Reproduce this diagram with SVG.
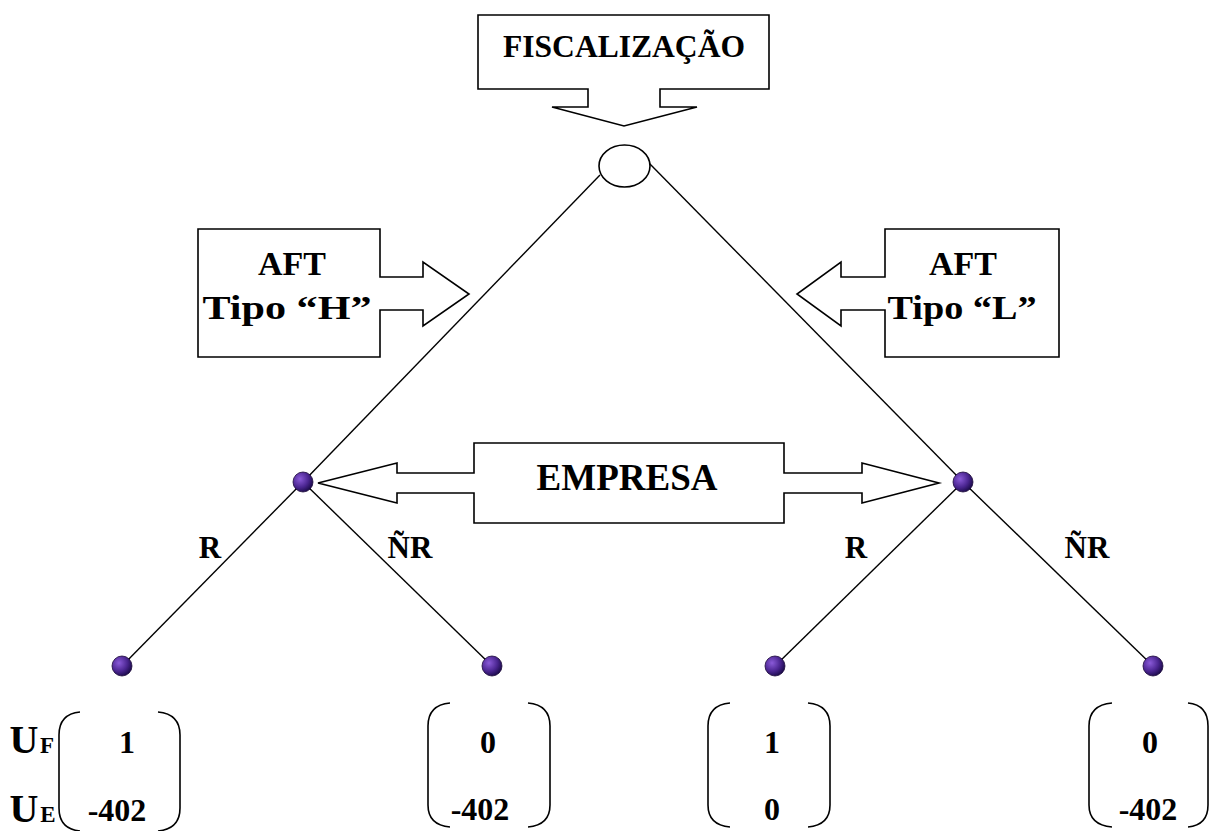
<svg xmlns="http://www.w3.org/2000/svg" width="1210" height="831" viewBox="0 0 1210 831">
<style>
.shape{fill:#fff;stroke:#000;stroke-width:1.6;stroke-linejoin:miter}
.edge{fill:none;stroke:#000;stroke-width:1.4}
.par{fill:none;stroke:#000;stroke-width:1.6}
.t{font-family:"Liberation Serif","Times New Roman",serif;font-weight:bold;fill:#000;text-anchor:middle}
.dot{fill:url(#dotg);stroke:#1a0838;stroke-width:0.8}
</style>
<defs>
<radialGradient id="dotg" cx="0.35" cy="0.35" r="0.7">
<stop offset="0" stop-color="#8a5ad8"/>
<stop offset="0.6" stop-color="#4a2590"/>
<stop offset="1" stop-color="#1a0a48"/>
</radialGradient>
</defs>
<rect width="1210" height="831" fill="#fff"/>
<g id="connectors">
<line class="edge" x1="600" y1="175" x2="303" y2="482"/>
<line class="edge" x1="648" y1="162" x2="963" y2="482"/>
<line class="edge" x1="303" y1="482" x2="122" y2="666"/>
<line class="edge" x1="303" y1="482" x2="492" y2="666"/>
<line class="edge" x1="963" y1="482" x2="775" y2="666"/>
<line class="edge" x1="963" y1="482" x2="1153" y2="666"/>
</g>
<g id="fiscalizacao">
<path class="shape" d="M478,15 H769 V89 H660 V107 H697 L624,126 L552,107 H588 V89 H478 Z"/>
<text class="t" x="624" y="57" font-size="32" textLength="242" lengthAdjust="spacingAndGlyphs">FISCALIZAÇÃO</text>
</g>
<g id="root">
<ellipse class="shape" cx="624.5" cy="166" rx="25.5" ry="21"/>
</g>
<g id="aft-h">
<path class="shape" d="M198,229 H380 V277 H423 V262 L469,294 L423,326 V310 H380 V357 H198 Z"/>
<text class="t" x="292" y="275" font-size="34">AFT</text>
<text class="t" x="287" y="319" font-size="34" textLength="169" lengthAdjust="spacingAndGlyphs">Tipo “H”</text>
</g>
<g id="aft-l">
<path class="shape" d="M1059,229 H885 V277 H841 V262 L797,294 L841,326 V310 H885 V357 H1059 Z"/>
<text class="t" x="963" y="275" font-size="34">AFT</text>
<text class="t" x="962" y="319" font-size="34" textLength="149" lengthAdjust="spacingAndGlyphs">Tipo “L”</text>
</g>
<g id="empresa">
<path class="shape" d="M474,443 H784 V473 H862 V463 L939,483 L862,503 V493 H784 V523 H474 V493 H397 V503 L318,483 L397,463 V473 H474 Z"/>
<text class="t" x="627" y="490" font-size="37">EMPRESA</text>
</g>
<g id="node-left">
<circle class="dot" cx="303" cy="482" r="10"/>
</g>
<g id="node-right">
<circle class="dot" cx="963" cy="482" r="10"/>
</g>
<g id="labels">
<text class="t" x="210" y="558" font-size="31">R</text>
<text class="t" x="410" y="558" font-size="31">ÑR</text>
<text class="t" x="856" y="558" font-size="31">R</text>
<text class="t" x="1087" y="558" font-size="31">ÑR</text>
</g>
<g id="leaf1">
<circle class="dot" cx="122" cy="666" r="10"/>
<path class="par" d="M80,712 Q59,714 59,735 V808 Q59,829 80,831"/>
<path class="par" d="M158,712 Q180,714 180,735 V808 Q180,829 158,831"/>
<text class="t" x="127" y="753" font-size="32">1</text>
<text class="t" x="117" y="821" font-size="32">-402</text>
</g>
<g id="leaf2">
<circle class="dot" cx="492" cy="666" r="10"/>
<path class="par" d="M450,703 Q428,705 428,726 V805 Q428,825 450,827"/>
<path class="par" d="M528,703 Q550,705 550,726 V805 Q550,825 528,827"/>
<text class="t" x="488" y="753" font-size="32">0</text>
<text class="t" x="480" y="820" font-size="32">-402</text>
</g>
<g id="leaf3">
<circle class="dot" cx="775" cy="666" r="10"/>
<path class="par" d="M730,703 Q708,705 708,726 V805 Q708,825 730,827"/>
<path class="par" d="M808,703 Q830,705 830,726 V805 Q830,825 808,827"/>
<text class="t" x="772" y="753" font-size="32">1</text>
<text class="t" x="772" y="820" font-size="32">0</text>
</g>
<g id="leaf4">
<circle class="dot" cx="1153" cy="666" r="10"/>
<path class="par" d="M1112,703 Q1089,705 1089,726 V805 Q1089,825 1112,827"/>
<path class="par" d="M1188,703 Q1208,705 1208,726 V805 Q1208,825 1188,827"/>
<text class="t" x="1150" y="753" font-size="32">0</text>
<text class="t" x="1148" y="820" font-size="32">-402</text>
</g>
<g id="utility-labels">
<text class="t" x="24" y="753" font-size="40">U</text>
<text class="t" x="47" y="753" font-size="23">F</text>
<text class="t" x="24" y="822" font-size="40">U</text>
<text class="t" x="48" y="822" font-size="23">E</text>
</g>
</svg>
